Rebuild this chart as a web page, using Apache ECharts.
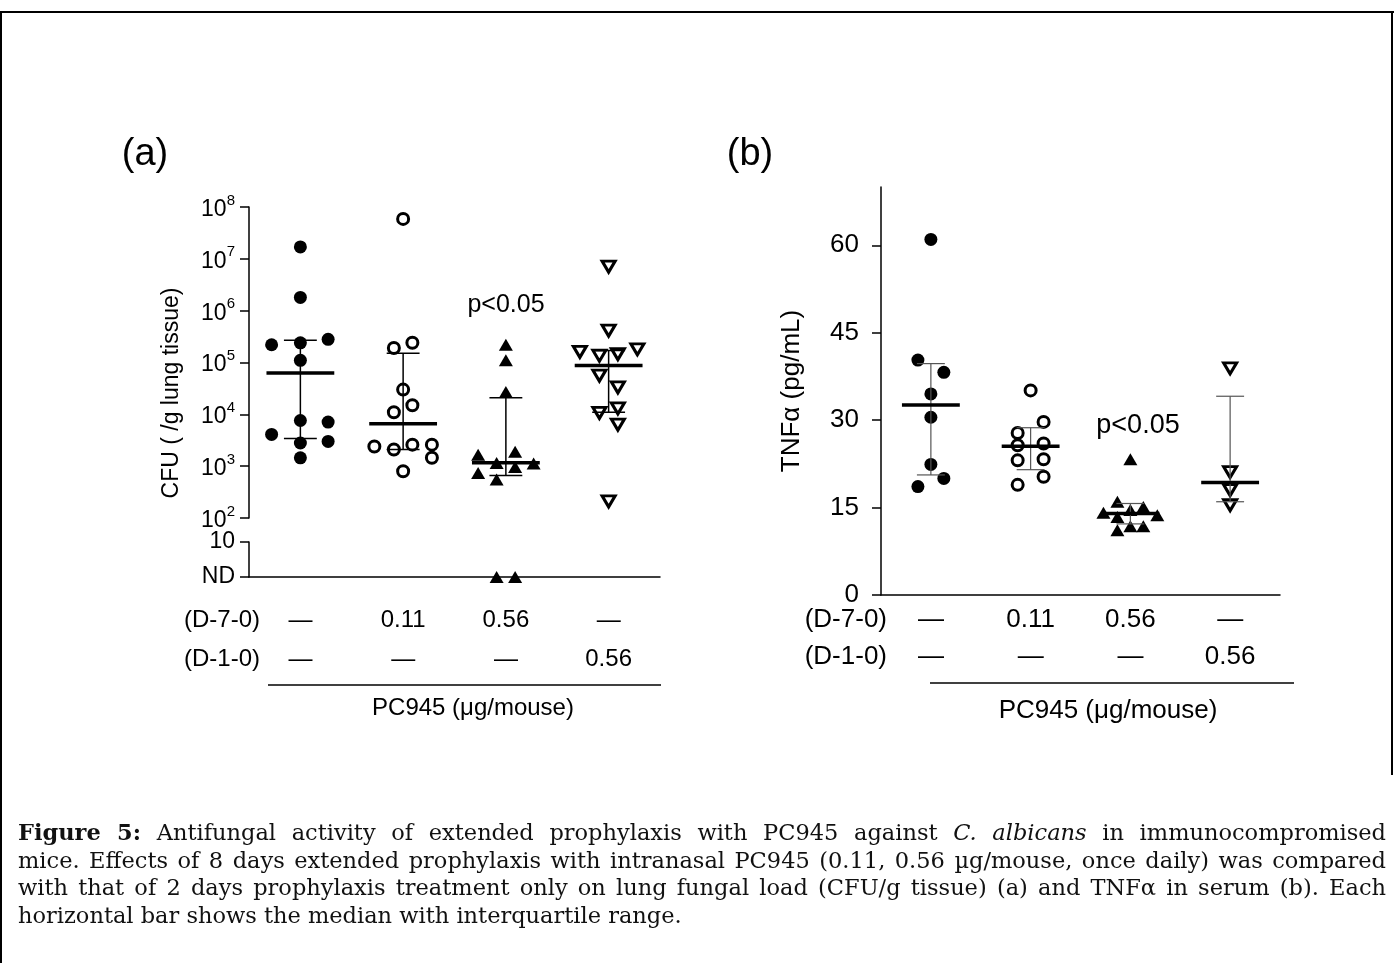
<!DOCTYPE html>
<html>
<head>
<meta charset="utf-8">
<title>Figure 5</title>
<script src="https://cdn.jsdelivr.net/npm/echarts@6.0.0/dist/echarts.min.js"></script>
<style>
  html, body { margin: 0; padding: 0; background: #fff; }
  #page { position: relative; width: 1394px; height: 963px; overflow: hidden; }
  #chart { position: absolute; left: 0; top: 0; width: 1394px; height: 963px; }
  #caption {
    position: absolute; left: 18px; top: 819px; width: 1368px;
    font-family: 'DejaVu Serif', 'Liberation Serif', serif;
    font-size: 22.5px; line-height: 27.5px; color: #111;
  }
  #caption .j { text-align: justify; text-align-last: justify; }
</style>
</head>
<body>
<div id="page">
  <div id="chart"></div>
  <div id="caption">
    <div class="j"><b>Figure 5:</b> Antifungal activity of extended prophylaxis with PC945 against <i>C. albicans</i> in immunocompromised</div>
    <div class="j">mice. Effects of 8 days extended prophylaxis with intranasal PC945 (0.11, 0.56 µg/mouse, once daily) was compared</div>
    <div class="j">with that of 2 days prophylaxis treatment only on lung fungal load (CFU/g tissue) (a) and TNFα in serum (b). Each</div>
    <div>horizontal bar shows the median with interquartile range.</div>
  </div>
</div>
<script>
// dose table under both panels
var doseD7 = ['—', '0.11', '0.56', '—']
var doseD1 = ['—', '—', '—', '0.56']

// (a) lung CFU per mouse, 'ND' = not detected
var cfuControl = [1.7e7, 1.8e6, 2.8e5, 2.4e5, 2.2e5, 1.1e5, 7.6e3, 7.1e3, 4.1e3, 3.0e3, 2.8e3, 1.45e3]
var cfuLow = [5.9e7, 2.4e5, 1.9e5, 3.0e4, 1.5e4, 1.1e4, 2.6e3, 2.6e3, 2.4e3, 2.1e3, 1.45e3, 800]
var cfuHigh = [2.2e5, 1.1e5, 2.7e4, 1.9e3, 1.66e3, 1.15e3, 1.12e3, 960, 740, 550, 'ND', 'ND']
var cfuShort = [7.1e6, 4.1e5, 1.8e5, 1.6e5, 1.45e5, 1.35e5, 5.6e4, 3.3e4, 1.3e4, 1.07e4, 6.3e3, 210]
// horizontal scatter of each point inside its column (category units)
var cfuControlDx = [0, 0, 0.27, 0, -0.28, 0, 0, 0.27, -0.28, 0.27, 0, 0]
var cfuLowDx = [0, 0.09, -0.09, 0, 0.09, -0.09, 0.09, 0.28, -0.28, -0.09, 0.28, 0]
var cfuHighDx = [0, 0, 0, 0.09, -0.27, -0.09, 0.27, 0.09, -0.27, -0.09, -0.09, 0.09]
var cfuShortDx = [0, 0, 0.28, -0.28, 0.09, -0.09, -0.09, 0.09, 0.09, -0.09, 0.09, 0]
var cfuMedian = [6.3e4, 6.6e3, 1.17e3, 8.8e4]
var cfuQ1 = [3.4e3, 2.1e3, 660, 1.1e4]
var cfuQ3 = [2.7e5, 1.5e5, 2.1e4, 1.7e5]
var cfuTicks = [1e2, 1e3, 1e4, 1e5, 1e6, 1e7, 1e8]

// (b) serum TNFα (pg/mL)
var tnfControl = [61.0, 40.3, 38.2, 34.5, 30.5, 22.4, 20.0, 18.6]
var tnfLow = [35.1, 29.7, 27.8, 26.0, 25.7, 23.3, 23.1, 20.3, 18.9]
var tnfHigh = [23.3, 16.0, 15.1, 14.6, 14.1, 13.7, 13.4, 11.8, 11.8, 11.1]
var tnfShort = [38.9, 21.1, 18.0, 15.4]
var tnfControlDx = [0, -0.13, 0.13, 0, 0, 0, 0.13, -0.13]
var tnfLowDx = [0, 0.13, -0.13, 0.13, -0.13, 0.13, -0.13, 0.13, -0.13]
var tnfHighDx = [0, -0.13, 0.13, 0, -0.27, 0.27, -0.13, 0, 0.13, -0.13]
var tnfShortDx = [0, 0, 0, 0]
var tnfMedian = [32.6, 25.5, 14.0, 19.3]
var tnfQ1 = [20.6, 21.5, 12.2, 16.0]
var tnfQ3 = [39.7, 28.7, 15.7, 34.1]
var tnfTicks = [0, 15, 30, 45, 60]

var FONT = 'Liberation Sans, Arial, sans-serif'

var markers = [
  { symbol: 'circle', symbolSize: 13, itemStyle: { color: '#000', opacity: 1 } },
  { symbol: 'circle', symbolSize: 11, itemStyle: { color: '#fff', borderColor: '#000', borderWidth: 3, opacity: 1 } },
  { symbol: 'triangle', symbolSize: [14, 12], itemStyle: { color: '#000', opacity: 1 } },
  { symbol: 'triangle', symbolSize: [13, 11], symbolRotate: 180, itemStyle: { color: '#fff', borderColor: '#000', borderWidth: 3, opacity: 1 } },
]

function points (values, dx, group, keepND) {
  var out = []
  values.forEach(function (v, i) {
    if ((v === 'ND') === keepND) out.push([group + dx[i], keepND ? 0 : v])
  })
  return out
}

function scatter (data, group, xi, yi) {
  var m = markers[group - 1]
  return {
    type: 'scatter', xAxisIndex: xi, yAxisIndex: yi, data: data, clip: false, z: 2,
    symbol: m.symbol, symbolSize: m.symbolSize, symbolRotate: m.symbolRotate || 0,
    itemStyle: m.itemStyle, emphasis: { disabled: true },
  }
}

// median bar + interquartile whisker
function summary (median, q1, q3, xi, yi, medHalf, capHalf, color, width) {
  return {
    type: 'custom', xAxisIndex: xi, yAxisIndex: yi, z: 3, clip: false,
    data: median.map(function (m, i) { return [i + 1, m, q1[i], q3[i]] }),
    encode: { x: 0, y: [1, 2, 3] },
    renderItem: function (params, api) {
      var x = api.value(0)
      var med = api.value(1)
      var lo = api.value(2)
      var hi = api.value(3)
      var c = function (a, b) { return api.coord([a, b]) }
      var seg = function (p, q, style) {
        return { type: 'line', shape: { x1: p[0], y1: p[1], x2: q[0], y2: q[1] }, style: style }
      }
      var thin = { stroke: color, lineWidth: width }
      return {
        type: 'group',
        children: [
          seg(c(x, lo), c(x, hi), thin),
          seg(c(x - capHalf, hi), c(x + capHalf, hi), thin),
          seg(c(x - capHalf, lo), c(x + capHalf, lo), thin),
          seg(c(x - medHalf, med), c(x + medHalf, med), { stroke: '#000', lineWidth: 3.5 }),
        ],
      }
    },
  }
}

function hiddenX (grid) {
  return { gridIndex: grid, type: 'value', min: 0.5, max: 4.5, show: false }
}
function baseX (grid) {
  return {
    gridIndex: grid, type: 'value', min: 0.5, max: 4.5, position: 'bottom',
    axisLine: { show: true, onZero: false, lineStyle: { color: '#000', width: 1.5 } },
    axisTick: { show: false }, axisLabel: { show: false }, splitLine: { show: false },
  }
}
function doseX (grid, size, lh, margin) {
  return {
    gridIndex: grid, type: 'category', data: ['1', '2', '3', '4'], position: 'bottom',
    axisLine: { show: false }, axisTick: { show: false }, splitLine: { show: false },
    axisLabel: {
      interval: 0, margin: margin, fontSize: size, lineHeight: lh, color: '#000', fontFamily: FONT,
      formatter: function (v, i) { return doseD7[i] + '\n' + doseD1[i] },
    },
  }
}

var series = []
var cfuGroups = [[cfuControl, cfuControlDx], [cfuLow, cfuLowDx], [cfuHigh, cfuHighDx], [cfuShort, cfuShortDx]]
cfuGroups.forEach(function (g, i) {
  series.push(scatter(points(g[0], g[1], i + 1, false), i + 1, 0, 0))
  var nd = points(g[0], g[1], i + 1, true)
  if (nd.length) series.push(scatter(nd, i + 1, 1, 1))
})
series.push(summary(cfuMedian, cfuQ1, cfuQ3, 0, 0, 0.33, 0.16, '#000', 1.5))

var tnfGroups = [[tnfControl, tnfControlDx], [tnfLow, tnfLowDx], [tnfHigh, tnfHighDx], [tnfShort, tnfShortDx]]
tnfGroups.forEach(function (g, i) {
  series.push(scatter(points(g[0], g[1], i + 1, false), i + 1, 3, 2))
})
series.push(summary(tnfMedian, tnfQ1, tnfQ3, 3, 2, 0.29, 0.14, '#555', 1.2))

function label (text, x, y, size, extra, rotation) {
  var s = { text: text, fontSize: size, fontFamily: FONT, fill: '#000', textAlign: 'center', textVerticalAlign: 'middle' }
  for (var k in extra) s[k] = extra[k]
  return { type: 'text', x: x, y: y, rotation: rotation || 0, style: s, z: 10 }
}
function rule (x1, y1, x2, y2, w) {
  return { type: 'line', shape: { x1: x1, y1: y1, x2: x2, y2: y2 }, style: { stroke: '#000', lineWidth: w || 1.5 }, z: 10 }
}

var option = {
  animation: false,
  backgroundColor: '#fff',
  textStyle: { fontFamily: FONT, color: '#000' },
  grid: [
    { left: 249, top: 207, width: 411, height: 311 },
    { left: 249, top: 542, width: 411, height: 35 },
    { left: 881, top: 187, width: 399, height: 408 },
  ],
  xAxis: [hiddenX(0), baseX(1), doseX(1, 24, 39, 24), baseX(2), doseX(2, 26, 37, 6)],
  yAxis: [
    {
      gridIndex: 0, type: 'log', logBase: 10, min: 1e2, max: 1e8,
      axisLine: { show: true, lineStyle: { color: '#000', width: 1.5 } },
      axisTick: { show: true, length: 9, customValues: cfuTicks, lineStyle: { color: '#000', width: 1.5 } },
      minorTick: { show: false }, splitLine: { show: false },
      axisLabel: {
        customValues: cfuTicks, margin: 14, color: '#000',
        formatter: function (v) { return '{b|10}{s|' + Math.round(Math.log10(v)) + '}' },
        rich: {
          b: { fontSize: 23, fontFamily: FONT, color: '#000', verticalAlign: 'bottom', lineHeight: 28 },
          s: { fontSize: 15, fontFamily: FONT, color: '#000', verticalAlign: 'top', lineHeight: 16 },
        },
      },
    },
    {
      gridIndex: 1, type: 'value', min: 0, max: 1, interval: 1,
      axisLine: { show: true, lineStyle: { color: '#000', width: 1.5 } },
      axisTick: { show: true, length: 9, lineStyle: { color: '#000', width: 1.5 } },
      splitLine: { show: false },
      axisLabel: {
        margin: 14, fontSize: 23, color: '#000', fontFamily: FONT,
        formatter: function (v) { return v === 0 ? 'ND' : '10' },
      },
    },
    {
      gridIndex: 2, type: 'value', min: 0, max: 70,
      axisLine: { show: true, lineStyle: { color: '#000', width: 1.5 } },
      axisTick: { show: true, length: 9, customValues: tnfTicks, lineStyle: { color: '#000', width: 1.5 } },
      splitLine: { show: false },
      axisLabel: { customValues: tnfTicks, margin: 22, fontSize: 26, color: '#000', fontFamily: FONT },
      name: 'TNFα (pg/mL)', nameLocation: 'middle', nameGap: 76,
      nameTextStyle: { fontSize: 26, color: '#000', fontFamily: FONT },
    },
  ],
  series: series,
  graphic: [
    // frame
    rule(0, 12, 1394, 12, 2),
    rule(1, 12, 1, 963, 2),
    rule(1392, 12, 1392, 775, 2),
    label('(a)', 145, 155, 38),
    label('(b)', 750, 155, 38),
    label('CFU ( /g lung tissue)', 172, 393, 23, {}, Math.PI / 2),
    label('p<0.05', 506, 305, 25),
    label('p<0.05', 1138, 426, 27),
    label('(D-7-0)', 260, 620, 24, { textAlign: 'right' }),
    label('(D-1-0)', 260, 659, 24, { textAlign: 'right' }),
    rule(268, 685, 661, 685),
    label('PC945 (μg/mouse)', 473, 708, 24),
    label('(D-7-0)', 887, 620, 26, { textAlign: 'right' }),
    label('(D-1-0)', 887, 657, 26, { textAlign: 'right' }),
    rule(930, 683, 1294, 683),
    label('PC945 (μg/mouse)', 1108, 711, 26),
  ],
}

var myChart = echarts.init(document.getElementById('chart'))
myChart.setOption(option)
window.onresize = myChart.resize
</script>
</body>
</html>
